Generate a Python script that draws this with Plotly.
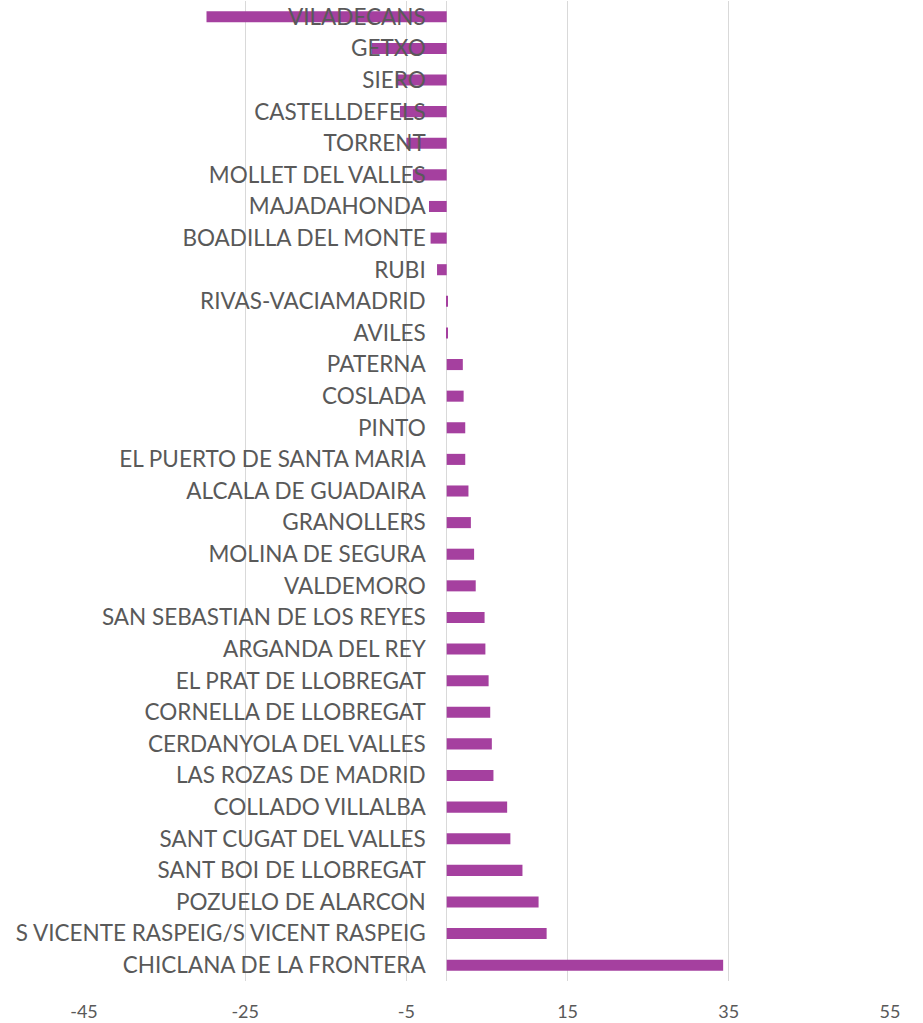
import plotly.graph_objects as go

categories = [
    "VILADECANS", "GETXO", "SIERO", "CASTELLDEFELS", "TORRENT",
    "MOLLET DEL VALLES", "MAJADAHONDA", "BOADILLA DEL MONTE", "RUBI",
    "RIVAS-VACIAMADRID", "AVILES", "PATERNA", "COSLADA", "PINTO",
    "EL PUERTO DE SANTA MARIA", "ALCALA DE GUADAIRA", "GRANOLLERS",
    "MOLINA DE SEGURA", "VALDEMORO", "SAN SEBASTIAN DE LOS REYES",
    "ARGANDA DEL REY", "EL PRAT DE LLOBREGAT", "CORNELLA DE LLOBREGAT",
    "CERDANYOLA DEL VALLES", "LAS ROZAS DE MADRID", "COLLADO VILLALBA",
    "SANT CUGAT DEL VALLES", "SANT BOI DE LLOBREGAT", "POZUELO DE ALARCON",
    "S VICENTE RASPEIG/S VICENT RASPEIG", "CHICLANA DE LA FRONTERA",
]
values = [
    -29.8, -9.3, -6.3, -5.8, -5.0,
    -4.2, -2.2, -2.0, -1.2,
    0.1, 0.1, 2.0, 2.1, 2.3,
    2.3, 2.7, 3.0,
    3.4, 3.6, 4.7,
    4.8, 5.2, 5.4,
    5.6, 5.8, 7.5,
    7.9, 9.4, 11.4,
    12.4, 34.3,
]
x_ticks = [-45, -25, -5, 15, 35, 55]
x_tick_labels = ["-45", "-25", "-5", "15", "35", "55"]

fig = go.Figure(
    go.Bar(
        x=values,
        y=categories,
        orientation="h",
        marker=dict(color="#A5409F", line=dict(width=0)),
    )
)

fig.update_layout(
    width=923,
    height=1023,
    margin=dict(l=84, r=33, t=1, b=42, autoexpand=False),
    plot_bgcolor="white",
    paper_bgcolor="white",
    bargap=0.65,
    showlegend=False,
    font=dict(family="Lato", color="#595959"),
)
fig.update_xaxes(
    range=[-45, 55],
    tickvals=x_ticks,
    ticktext=x_tick_labels,
    showgrid=True,
    gridcolor="#D9D9D9",
    gridwidth=1,
    zeroline=True,
    zerolinecolor="#D9D9D9",
    zerolinewidth=1,
    showline=False,
    ticks="",
    ticklabelstandoff=18,
    tickfont=dict(size=18, color="#595959"),
    domain=[0, 1],
)
fig.update_yaxes(
    categoryorder="array",
    categoryarray=categories,
    autorange="reversed",
    anchor="free",
    position=0.45,
    showgrid=False,
    showline=False,
    ticks="",
    ticklabelstandoff=21,
    tickfont=dict(size=22.5, color="#595959"),
)

fig.write_html(
    "out.html",
    config={"displayModeBar": False},
    post_script="document.body.style.margin='0';document.body.style.padding='0';",
)
